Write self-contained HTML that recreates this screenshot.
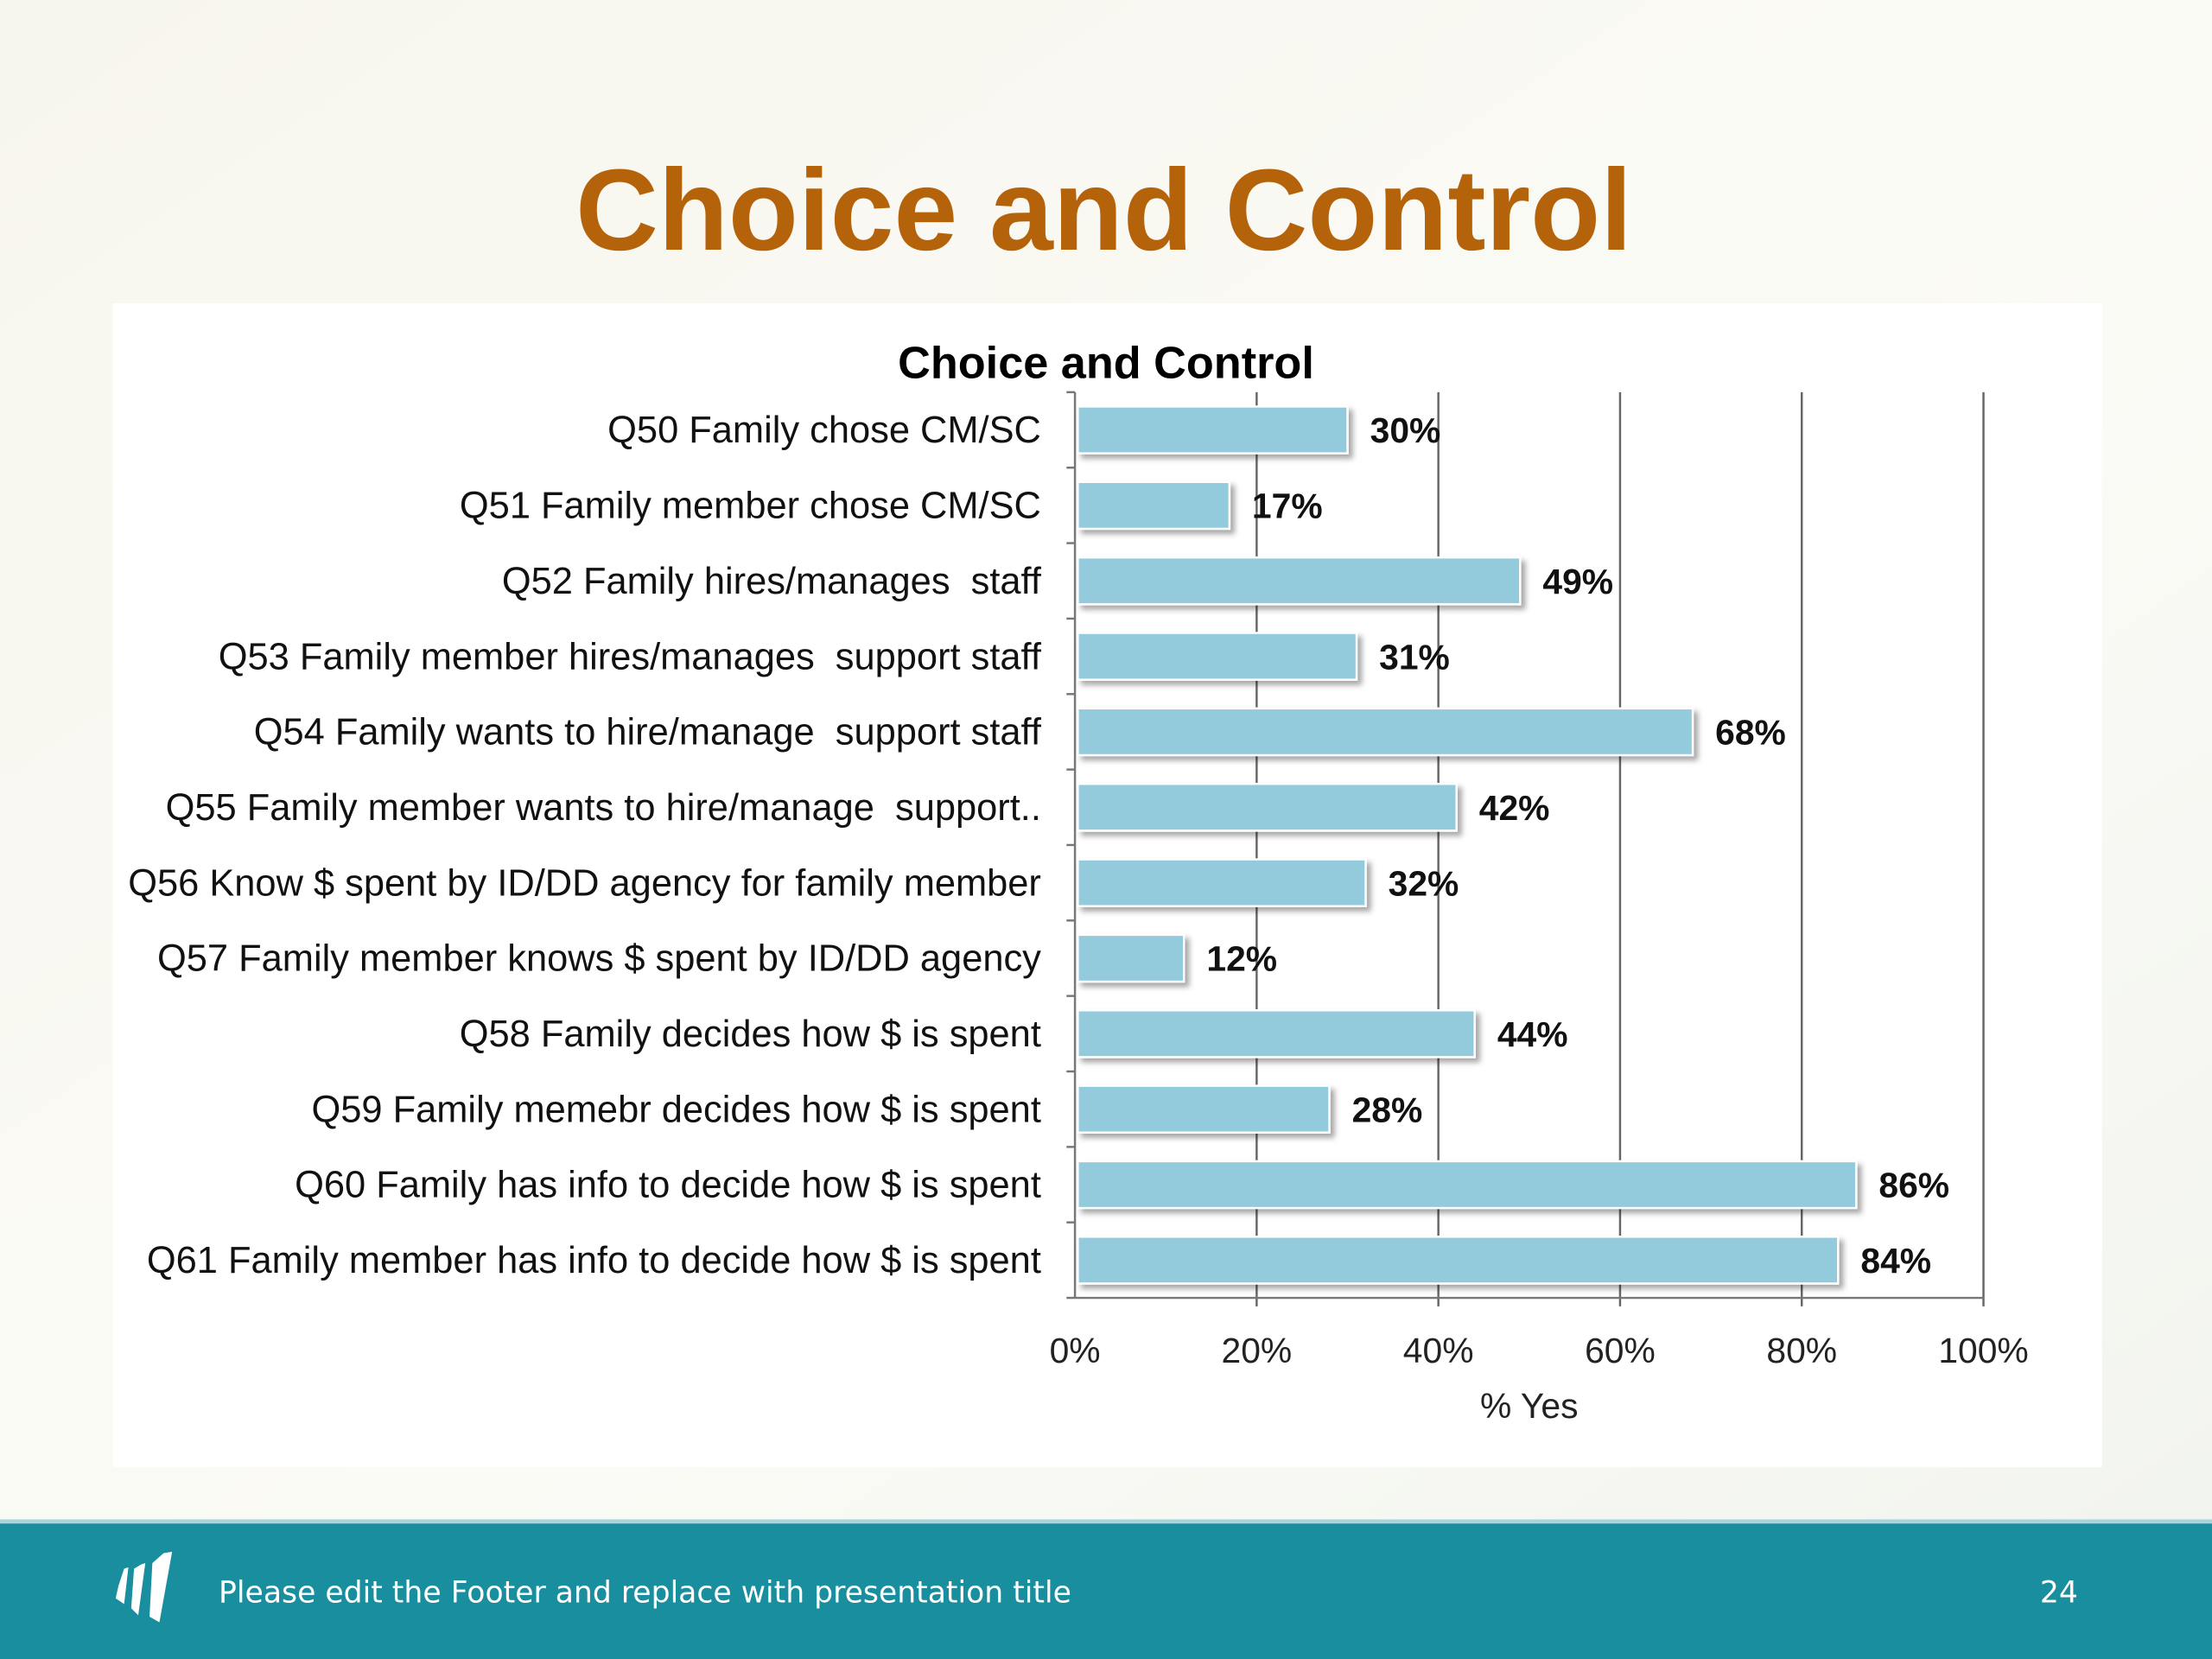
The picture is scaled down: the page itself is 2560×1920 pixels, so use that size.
<!DOCTYPE html>
<html><head><meta charset="utf-8"><style>
html,body{margin:0;padding:0;width:2560px;height:1920px;overflow:hidden;background:#fff}
svg{display:block}
text{font-family:"Liberation Sans",Arial,sans-serif}
</style></head><body>
<svg id="chart" width="2560" height="1920" viewBox="0 0 1568 1176" xmlns="http://www.w3.org/2000/svg">
<defs>
<linearGradient id="bg" x1="0" y1="0" x2="1" y2="1"><stop offset="0" stop-color="#f7f6ee"/><stop offset="0.6" stop-color="#fbfbf6"/><stop offset="1" stop-color="#f2f4ef"/></linearGradient>
<filter id="sh" x="-5%" y="-20%" width="115%" height="160%"><feDropShadow dx="3" dy="3" stdDeviation="2" flood-color="#000" flood-opacity="0.35"/></filter>
</defs>
<rect x="0" y="0" width="1568" height="1080" fill="url(#bg)"/>
<text x="408" y="177" textLength="749" lengthAdjust="spacingAndGlyphs" font-size="82" font-weight="bold" fill="#b5630b">Choice and Control</text>
<rect x="80" y="215" width="1410" height="825" fill="#fff"/>
<text x="784" y="268" text-anchor="middle" font-size="32" font-weight="bold" fill="#000">Choice and Control</text>
<g id="grid"></g>
<g id="bars"></g>
<g id="labels"></g>
<g id="ticks"></g>
<text x="1084" y="1005" text-anchor="middle" font-size="25" fill="#222">% Yes</text>
<rect x="0" y="1079" width="1568" height="97" fill="#198e9f"/>
<rect x="0" y="1077" width="1568" height="3" fill="#a8d4dc"/>
<g fill="#fff">
<path d="M84 1124 L88 1112 L91 1111 L88 1137 L82 1133 Z"/>
<path d="M95 1112 L100 1109 L103 1108 L98 1145 L93 1140 Z"/>
<path d="M108 1108 L116 1101 L122 1100 L113 1150 L106 1146 Z"/>
</g>
<text x="155" y="1136" font-size="21.2" fill="#fff" style="font-family:'DejaVu Sans','Liberation Sans',sans-serif">Please edit the Footer and replace with presentation title</text>
<text x="1473" y="1136" text-anchor="end" font-size="21.2" fill="#fff" style="font-family:'DejaVu Sans','Liberation Sans',sans-serif">24</text>
</svg>
<script>
const categories = ["Q50 Family chose CM/SC","Q51 Family member chose CM/SC","Q52 Family hires/manages  staff","Q53 Family member hires/manages  support staff","Q54 Family wants to hire/manage  support staff","Q55 Family member wants to hire/manage  support..","Q56 Know $ spent by ID/DD agency for family member","Q57 Family member knows $ spent by ID/DD agency","Q58 Family decides how $ is spent","Q59 Family memebr decides how $ is spent","Q60 Family has info to decide how $ is spent","Q61 Family member has info to decide how $ is spent"];
const values = [30,17,49,31,68,42,32,12,44,28,86,84];
const tickValues = [0,20,40,60,80,100];
const tickLabels = ["0%","20%","40%","60%","80%","100%"];
const NS="http://www.w3.org/2000/svg";
const X0=762,X1=1406,Y0=278,Y1=920;
function xScale(v){return X0+(X1-X0)*v/100;}
const band=(Y1-Y0)/categories.length;
function yScale(i){return Y0+band*i;}
function mk(tag,attrs,parent,txt){const e=document.createElementNS(NS,tag);for(const k in attrs)e.setAttribute(k,attrs[k]);if(txt!==undefined)e.textContent=txt;parent.appendChild(e);return e;}
const grid=document.getElementById('grid'),bars=document.getElementById('bars'),labels=document.getElementById('labels'),ticks=document.getElementById('ticks');
tickValues.forEach((t,i)=>{
  if(t>0){const l=mk('line',{x1:xScale(t),x2:xScale(t),y1:Y0,y2:Y1+6,stroke:'#666','stroke-width':1.5},grid);
  
  }
  const tx=mk('text',{x:xScale(t),y:966,'text-anchor':'middle','font-size':25,fill:'#222'},ticks,tickLabels[i]);
  
  
});
const ax=mk('line',{x1:X0,x2:X0,y1:Y0,y2:Y1,stroke:'#777','stroke-width':1.5},grid);


const bx=mk('line',{x1:X0,x2:X1,y1:Y1,y2:Y1,stroke:'#777','stroke-width':1.5},grid);


for(let i=0;i<=categories.length;i++){
  const tk=mk('line',{x1:X0-6,x2:X0,y1:yScale(i),y2:yScale(i),stroke:'#777','stroke-width':1.5},grid);
  
  
}
categories.forEach((c,i)=>{
  const yc=yScale(i)+band/2, h=band*0.62;
  const r=mk('rect',{x:X0+2,y:yc-h/2,width:xScale(values[i])-X0-2,height:h,fill:'#93cbdc',stroke:'#fff','stroke-width':1.5,filter:'url(#sh)'},bars);
  
  
  const v=mk('text',{x:xScale(values[i])+16,y:yc+9,'font-size':25,'font-weight':'bold',fill:'#111'},bars,values[i]+'%');
  
  
  const lb=mk('text',{x:738,y:yc+9,'text-anchor':'end','font-size':26.6,fill:'#111'},labels,c);
  
  
  lb.style.whiteSpace='pre';
});
</script>
</body></html>
